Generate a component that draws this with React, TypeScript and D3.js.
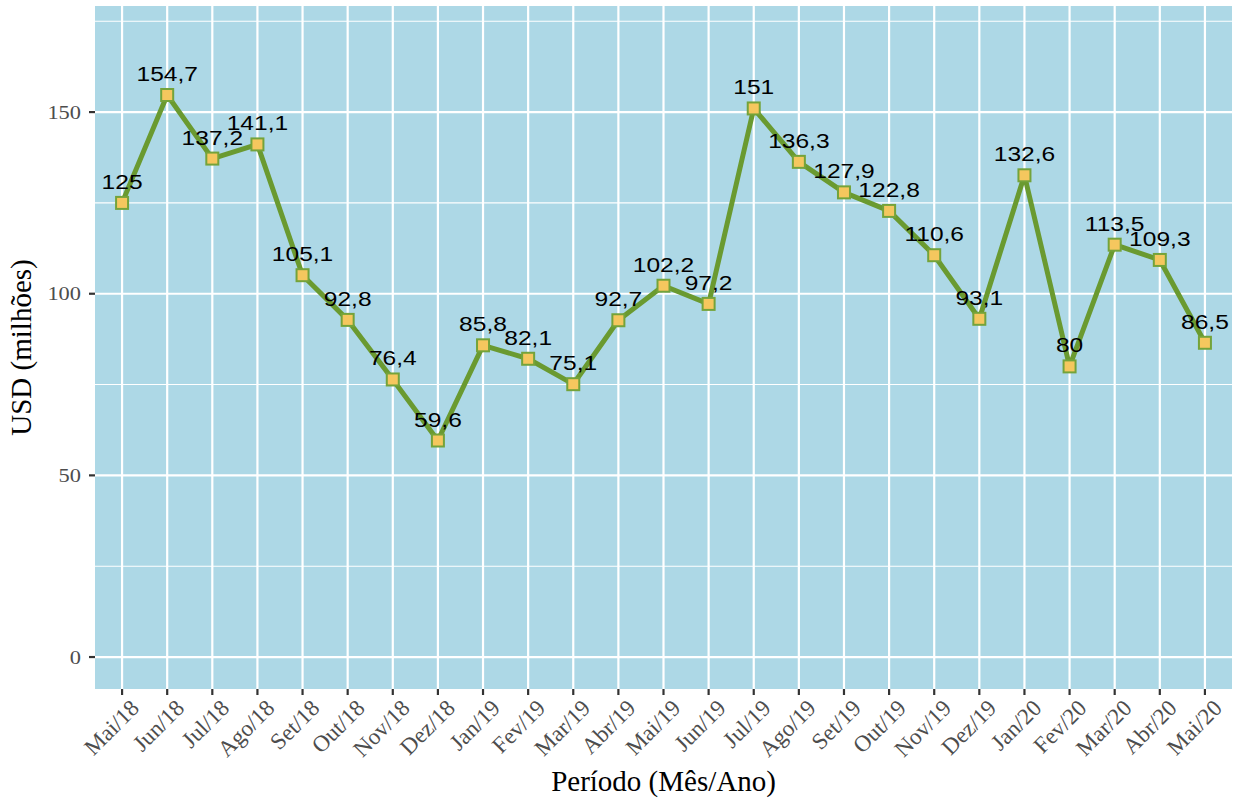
import { useEffect, useRef } from 'react';
import * as d3 from 'd3';

// Exportações mensais (USD milhões)
const periodos = [
  'Mai/18', 'Jun/18', 'Jul/18', 'Ago/18', 'Set/18', 'Out/18', 'Nov/18', 'Dez/18',
  'Jan/19', 'Fev/19', 'Mar/19', 'Abr/19', 'Mai/19', 'Jun/19', 'Jul/19', 'Ago/19',
  'Set/19', 'Out/19', 'Nov/19', 'Dez/19', 'Jan/20', 'Fev/20', 'Mar/20', 'Abr/20', 'Mai/20'
];
const valores = [
  125, 154.7, 137.2, 141.1, 105.1, 92.8, 76.4, 59.6,
  85.8, 82.1, 75.1, 92.7, 102.2, 97.2, 151, 136.3,
  127.9, 122.8, 110.6, 93.1, 132.6, 80, 113.5, 109.3, 86.5
];
const yTicks = [0, 50, 100, 150];
const yMinor = [25, 75, 125, 175];

const WIDTH = 1235;
const HEIGHT = 801;
const SERIF = '"Liberation Serif", "Times New Roman", serif';
const SANS = '"Liberation Sans", Arial, sans-serif';

export default function App() {
  const svgRef = useRef<SVGSVGElement>(null);

  useEffect(() => {
    if (!svgRef.current) return;
    const svg = d3.select(svgRef.current);
    svg.selectAll('*').remove();

    const panel = { left: 95, right: 1232, top: 6, bottom: 689 };

    const x = d3.scalePoint<string>()
      .domain(periodos)
      .range([panel.left, panel.right])
      .padding(0.6);

    const y = d3.scaleLinear()
      .domain([-8.8, 179.2])
      .range([panel.bottom, panel.top]);

    const data = periodos.map((p, i) => ({ p, v: valores[i] }));

    // fundo do painel
    svg.append('rect')
      .attr('x', panel.left)
      .attr('y', panel.top)
      .attr('width', panel.right - panel.left)
      .attr('height', panel.bottom - panel.top)
      .attr('fill', '#add8e6');

    // grade
    const grid = svg.append('g');
    grid.selectAll('line.minor')
      .data(yMinor)
      .join('line')
      .attr('class', 'minor')
      .attr('x1', panel.left).attr('x2', panel.right)
      .attr('y1', d => y(d)).attr('y2', d => y(d))
      .attr('stroke', '#fff').attr('stroke-width', 1.1);
    grid.selectAll('line.major')
      .data(yTicks)
      .join('line')
      .attr('class', 'major')
      .attr('x1', panel.left).attr('x2', panel.right)
      .attr('y1', d => y(d)).attr('y2', d => y(d))
      .attr('stroke', '#fff').attr('stroke-width', 2.2);
    grid.selectAll('line.vx')
      .data(periodos)
      .join('line')
      .attr('class', 'vx')
      .attr('x1', d => x(d)!).attr('x2', d => x(d)!)
      .attr('y1', panel.top).attr('y2', panel.bottom)
      .attr('stroke', '#fff').attr('stroke-width', 2.2);

    // eixo y
    const yAxis = svg.append('g');
    yAxis.selectAll('line')
      .data(yTicks)
      .join('line')
      .attr('x1', panel.left - 6).attr('x2', panel.left)
      .attr('y1', d => y(d)).attr('y2', d => y(d))
      .attr('stroke', '#333').attr('stroke-width', 2.2);
    yAxis.selectAll('text')
      .data(yTicks)
      .join('text')
      .attr('transform', d => `translate(${panel.left - 14},${y(d)}) scale(1.18,1)`)
      .attr('dy', '0.35em')
      .attr('text-anchor', 'end')
      .attr('font-family', SERIF)
      .attr('font-size', 19)
      .attr('fill', '#4d4d4d')
      .text(d => d);

    // eixo x
    const xAxis = svg.append('g');
    xAxis.selectAll('line')
      .data(periodos)
      .join('line')
      .attr('x1', d => x(d)!).attr('x2', d => x(d)!)
      .attr('y1', panel.bottom).attr('y2', panel.bottom + 6)
      .attr('stroke', '#333').attr('stroke-width', 2.2);
    xAxis.selectAll('text')
      .data(periodos)
      .join('text')
      .attr('transform', d => `translate(${x(d)! + 7},${panel.bottom + 9}) rotate(-45)`)
      .attr('dy', '0.7em')
      .attr('text-anchor', 'end')
      .attr('font-family', SERIF)
      .attr('font-size', 23)
      .attr('fill', '#4d4d4d')
      .text(d => d);

    // títulos
    svg.append('text')
      .attr('x', (panel.left + panel.right) / 2)
      .attr('y', 791)
      .attr('text-anchor', 'middle')
      .attr('font-family', SERIF)
      .attr('font-size', 29)
      .attr('fill', '#000')
      .text('Período (Mês/Ano)');
    svg.append('text')
      .attr('transform', `translate(31,${(panel.top + panel.bottom) / 2}) rotate(-90)`)
      .attr('text-anchor', 'middle')
      .attr('font-family', SERIF)
      .attr('font-size', 29)
      .attr('fill', '#000')
      .text('USD (milhões)');

    // linha
    const line = d3.line<{ p: string; v: number }>()
      .x(d => x(d.p)!)
      .y(d => y(d.v));
    svg.append('path')
      .datum(data)
      .attr('d', line)
      .attr('fill', 'none')
      .attr('stroke', '#6a9a30')
      .attr('stroke-width', 5)
      .attr('stroke-linejoin', 'round');

    // pontos
    const s = 12;
    svg.append('g')
      .selectAll('rect')
      .data(data)
      .join('rect')
      .attr('x', d => x(d.p)! - s / 2)
      .attr('y', d => y(d.v) - s / 2)
      .attr('width', s)
      .attr('height', s)
      .attr('fill', '#f5c75e')
      .attr('stroke', '#74a33a')
      .attr('stroke-width', 2);

    // rótulos
    svg.append('g')
      .selectAll('text')
      .data(data)
      .join('text')
      .attr('transform', d => `translate(${x(d.p)!},${y(d.v) - 14}) scale(1.17,1)`)
      .attr('text-anchor', 'middle')
      .attr('font-family', SANS)
      .attr('font-size', 21)
      .attr('fill', '#000')
      .text(d => String(d.v).replace('.', ','));
  }, []);

  return (
    <svg
      ref={svgRef}
      width={WIDTH}
      height={HEIGHT}
      style={{ position: 'absolute', left: 0, top: 0, background: '#fff' }}
    />
  );
}
